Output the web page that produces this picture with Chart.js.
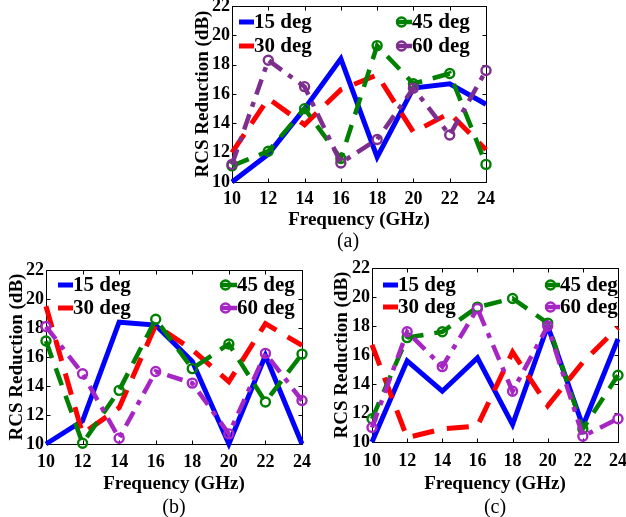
<!DOCTYPE html>
<html><head><meta charset="utf-8">
<script src="https://cdn.jsdelivr.net/npm/chart.js@4/dist/chart.umd.min.js"></script>
<style>
html,body{margin:0;padding:0;background:#fff;}
body{width:626px;height:517px;position:relative;overflow:hidden;}
canvas{position:absolute;}
.lbl{position:absolute;font-family:'Liberation Serif','Times New Roman',serif;font-size:20px;color:#000;transform:translate(-50%,-50%);white-space:nowrap;line-height:1;}
</style></head><body>
<canvas id="ca"></canvas><canvas id="cb"></canvas><canvas id="cc"></canvas>
<div class="lbl" id="la" style="left:348px;top:240px"></div>
<div class="lbl" id="lb" style="left:174px;top:506px"></div>
<div class="lbl" id="lc" style="left:495px;top:506px"></div>
<script>
// ---- data ----
const freq = [10, 12, 14, 16, 18, 20, 22, 24];
const xTicks = [10, 12, 14, 16, 18, 20, 22, 24];
const yTicks = [10, 12, 14, 16, 18, 20, 22];
const seriesNames = ['15 deg', '30 deg', '45 deg', '60 deg'];
const xTitle = 'Frequency (GHz)';
const yTitle = 'RCS Reduction (dB)';
const panelLabels = ['(a)', '(b)', '(c)'];

// panel (a)
const a15 = [10.0, 11.9, 15.0, 18.4, 11.7, 16.4, 16.7, 15.3];
const a30 = [12.0, 15.7, 13.9, 16.3, 17.3, 13.4, 14.7, 12.2];
const a45 = [11.1, 12.1, 15.0, 11.6, 19.3, 16.7, 17.4, 11.2];
const a60 = [11.2, 18.3, 16.5, 11.3, 12.9, 16.4, 13.2, 17.6];
// panel (b)
const b15 = [10.0, 11.6, 18.4, 18.2, 15.7, 10.0, 16.1, 10.0];
const b30 = [19.5, 10.7, 12.5, 18.2, 16.5, 14.3, 18.3, 16.8];
const b45 = [17.1, 10.05, 13.7, 18.6, 15.2, 16.9, 12.9, 16.2];
const b60 = [18.1, 14.85, 10.4, 15.0, 14.2, 10.7, 16.25, 13.0];
// panel (c)
const c15 = [10.0, 15.6, 13.5, 15.8, 11.2, 18.0, 11.1, 17.1];
const c30 = [16.7, 10.3, 10.9, 11.1, 16.2, 12.5, 15.5, 17.9];
const c45 = [11.6, 17.2, 17.6, 19.3, 19.9, 18.2, 10.9, 14.6];
const c60 = [11.0, 17.6, 15.2, 19.2, 13.5, 18.0, 10.4, 11.6];

document.getElementById('la').textContent = panelLabels[0];
document.getElementById('lb').textContent = panelLabels[1];
document.getElementById('lc').textContent = panelLabels[2];

const FONT = "'Liberation Serif', 'Times New Roman', serif";
Chart.defaults.font.family = FONT;

const boxPlugin = {
  id: 'boxTicks',
  beforeDatasetsDraw(chart) {
    const {ctx, chartArea: a, scales: {x, y}} = chart;
    ctx.save();
    ctx.strokeStyle = '#000'; ctx.lineWidth = 1;
    const L = Math.round(a.left) + 0.5, T = Math.round(a.top) + 0.5;
    const R = Math.round(a.right) + 0.5, B = Math.round(a.bottom) + 0.5;
    ctx.beginPath();
    ctx.rect(L, T, R - L, B - T);
    const tl = 4;
    xTicks.forEach(v => {
      const px = Math.round(x.getPixelForValue(v)) + 0.5;
      ctx.moveTo(px, B); ctx.lineTo(px, B - tl);
      ctx.moveTo(px, T); ctx.lineTo(px, T + tl);
    });
    yTicks.forEach(v => {
      const py = Math.round(y.getPixelForValue(v)) + 0.5;
      ctx.moveTo(L, py); ctx.lineTo(L + tl, py);
      ctx.moveTo(R, py); ctx.lineTo(R - tl, py);
    });
    ctx.stroke();
    ctx.restore();
  }
};

const legendPlugin = {
  id: 'panelLegend',
  afterDatasetsDraw(chart, args, opts) {
    const ctx = chart.ctx;
    chart.data.datasets.forEach((ds, i) => {
      const col = i < 2 ? 0 : 1, row = i % 2;
      const x0 = opts.cols[col][0] - opts.ox, x1 = opts.cols[col][1] - opts.ox;
      const yy = opts.rows[row] - opts.oy;
      ctx.save();
      ctx.strokeStyle = ds.borderColor; ctx.lineWidth = ds.borderWidth; ctx.lineCap = 'butt';
      ctx.beginPath(); ctx.moveTo(x0, yy); ctx.lineTo(x1, yy); ctx.stroke();
      if (ds.pointRadius > 0) {
        ctx.lineWidth = ds.pointBorderWidth;
        ctx.beginPath(); ctx.arc(x0 + ds.pointRadius + 1, yy, ds.pointRadius, 0, Math.PI * 2); ctx.stroke();
      }
      ctx.fillStyle = '#000';
      ctx.font = 'bold 21px ' + FONT;
      ctx.textBaseline = 'middle'; ctx.textAlign = 'left';
      ctx.fillText(ds.label, x1, yy + 1);
      ctx.restore();
    });
  }
};

function makeDatasets(vals, purple) {
  const styles = [
    {color: '#0000FF', width: 5, dash: [], r: 0},
    {color: '#FF0000', width: 5, dash: [22, 13], r: 0},
    {color: '#008000', width: 4.5, dash: [18, 11], r: 4.5},
    {color: purple, width: 4.5, dash: [16, 8, 5, 8], r: 4.5}
  ];
  return vals.map((v, i) => ({
    label: seriesNames[i],
    data: freq.map((f, k) => ({x: f, y: v[k]})),
    borderColor: styles[i].color,
    borderWidth: styles[i].width,
    borderDash: styles[i].dash,
    borderJoinStyle: 'miter',
    pointRadius: styles[i].r,
    pointHoverRadius: styles[i].r,
    pointBorderWidth: 2.4,
    pointBorderColor: styles[i].color,
    pointBackgroundColor: 'rgba(0,0,0,0)',
    tension: 0,
    clip: false,
    order: 4 - i
  }));
}

// P: page geometry of the panel
function panel(id, vals, purple, P) {
  const cv = document.getElementById(id);
  cv.width = P.cw; cv.height = P.ch;
  cv.style.left = P.cl + 'px'; cv.style.top = P.ct + 'px';
  const L = P.l - P.cl, T = P.t - P.ct, R = P.r - P.cl, B = P.b - P.ct;
  const half = 19 * 1.2 / 2;
  const padLeft = P.ytx - P.cl - half;
  const yWidth = L - padLeft;
  const H = P.xty - P.ct - B + half;
  const padBottom = P.ch - B - H;
  new Chart(cv, {
    type: 'line',
    data: {datasets: makeDatasets(vals, purple)},
    options: {
      responsive: false, animation: false, devicePixelRatio: 1,
      layout: {padding: {left: padLeft, top: T, right: P.cw - R, bottom: padBottom}},
      plugins: {
        legend: {display: false}, tooltip: {enabled: false},
        panelLegend: {ox: P.cl, oy: P.ct, cols: P.legCols, rows: P.legRows}
      },
      scales: {
        x: {
          type: 'linear', min: 10, max: 24,
          afterBuildTicks: s => { s.ticks = xTicks.map(v => ({value: v})); },
          afterFit: s => { s.height = H; },
          grid: {display: false, drawTicks: false},
          border: {display: false},
          ticks: {autoSkip: false, maxRotation: 0, padding: P.xpad, color: '#000',
                  font: {size: 18, weight: 'bold', family: FONT}},
          title: {display: true, text: xTitle, color: '#000', padding: 0,
                  font: {size: 19, weight: 'bold', family: FONT}}
        },
        y: {
          min: 10, max: 22,
          afterBuildTicks: s => { s.ticks = yTicks.map(v => ({value: v})); },
          afterFit: s => { s.width = yWidth; },
          grid: {display: false, drawTicks: false},
          border: {display: false},
          ticks: {autoSkip: false, padding: 2, color: '#000',
                  font: {size: 18, weight: 'bold', family: FONT}},
          title: {display: true, text: yTitle, color: '#000', padding: 0,
                  font: {size: 19, weight: 'bold', family: FONT}}
        }
      }
    },
    plugins: [boxPlugin, legendPlugin]
  });
}

panel('ca', [a15, a30, a45, a60], '#7E2F8E', {
  cl: 150, ct: -30, cw: 360, ch: 290,
  l: 232, t: 6, r: 486, b: 182, ytx: 203, xty: 220, xpad: 7,
  legCols: [[239, 254], [396, 412]], legRows: [22, 46]
});
panel('cb', [b15, b30, b45, b60], '#A626C4', {
  cl: 0, ct: 240, cw: 330, ch: 300,
  l: 46, t: 270, r: 302, b: 444, ytx: 17, xty: 484, xpad: 8,
  legCols: [[58, 73], [220, 237]], legRows: [285, 308]
});
panel('cc', [c15, c30, c45, c60], '#A626C4', {
  cl: 320, ct: 240, cw: 330, ch: 300,
  l: 372, t: 268, r: 618, b: 442, ytx: 342, xty: 484, xpad: 9,
  legCols: [[383, 398], [545, 560]], legRows: [285, 307]
});
</script>
</body></html>
